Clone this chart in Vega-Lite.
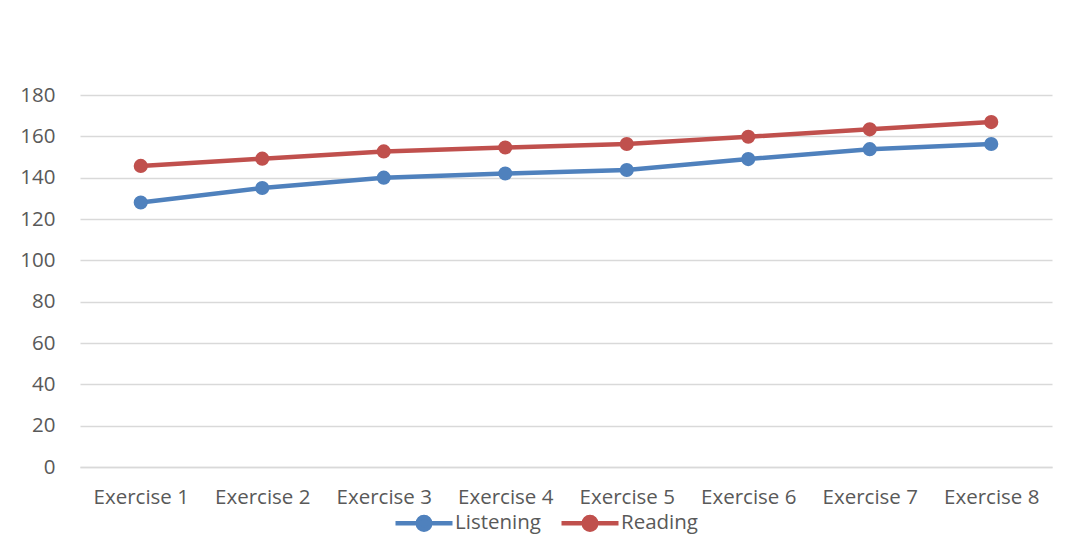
{
  "$schema": "https://vega.github.io/schema/vega-lite/v6.json",
  "width": 972,
  "height": 372,
  "autosize": {"type": "none"},
  "padding": {"left": 80, "top": 95, "right": 19, "bottom": 82},
  "background": "white",
  "config": {
    "view": {"stroke": null},
    "font": "Open Sans"
  },
  "data": {
    "values": [
      {"exercise": "Exercise 1", "series": "Listening", "value": 128},
      {"exercise": "Exercise 2", "series": "Listening", "value": 135},
      {"exercise": "Exercise 3", "series": "Listening", "value": 140},
      {"exercise": "Exercise 4", "series": "Listening", "value": 142},
      {"exercise": "Exercise 5", "series": "Listening", "value": 143.7},
      {"exercise": "Exercise 6", "series": "Listening", "value": 149},
      {"exercise": "Exercise 7", "series": "Listening", "value": 153.8},
      {"exercise": "Exercise 8", "series": "Listening", "value": 156.3},
      {"exercise": "Exercise 1", "series": "Reading", "value": 145.7},
      {"exercise": "Exercise 2", "series": "Reading", "value": 149.2},
      {"exercise": "Exercise 3", "series": "Reading", "value": 152.7},
      {"exercise": "Exercise 4", "series": "Reading", "value": 154.6},
      {"exercise": "Exercise 5", "series": "Reading", "value": 156.3},
      {"exercise": "Exercise 6", "series": "Reading", "value": 159.8},
      {"exercise": "Exercise 7", "series": "Reading", "value": 163.4},
      {"exercise": "Exercise 8", "series": "Reading", "value": 166.9}
    ]
  },
  "mark": {
    "type": "line",
    "strokeWidth": 4.5,
    "point": {"filled": true, "size": 200}
  },
  "encoding": {
    "x": {
      "field": "exercise",
      "type": "ordinal",
      "sort": null,
      "scale": {"type": "point", "padding": 0.5},
      "axis": {
        "title": null,
        "labelAngle": 0,
        "domain": true,
        "domainColor": "#d9d9d9",
        "domainWidth": 1.5,
        "ticks": false,
        "grid": false,
        "labelFont": "Open Sans",
        "labelFontSize": 20.5,
        "labelColor": "#595959",
        "labelPadding": 20
      }
    },
    "y": {
      "field": "value",
      "type": "quantitative",
      "scale": {"domain": [0, 180], "nice": false, "zero": true},
      "axis": {
        "title": null,
        "values": [0, 20, 40, 60, 80, 100, 120, 140, 160, 180],
        "domain": false,
        "ticks": false,
        "grid": true,
        "gridColor": "#d9d9d9",
        "gridWidth": 1.5,
        "labelFont": "Open Sans",
        "labelFontSize": 20.5,
        "labelColor": "#595959",
        "labelPadding": 25
      }
    },
    "color": {
      "field": "series",
      "type": "nominal",
      "scale": {"domain": ["Listening", "Reading"], "range": ["#4f81bd", "#c0504d"]},
      "legend": {
        "title": null,
        "orient": "none",
        "direction": "horizontal",
        "legendX": 313,
        "legendY": 397,
        "symbolType": "M-1,0L1,0M-0.22,0A0.22,0.22 0 1,1 0.22,0A0.22,0.22 0 1,1 -0.22,0Z",
        "symbolSize": 3249,
        "symbolStrokeWidth": 4.5,
        "labelFont": "Open Sans",
        "labelFontSize": 20.5,
        "labelColor": "#595959",
        "labelOffset": 0,
        "columnPadding": 11
      }
    }
  }
}
